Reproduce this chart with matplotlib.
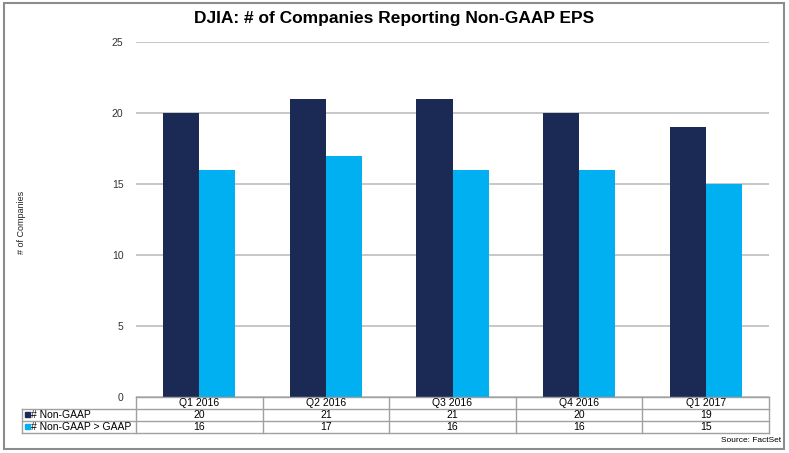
import matplotlib
matplotlib.use('Agg')
import matplotlib.pyplot as plt
import numpy as np

plt.rcParams['font.family'] = ['Liberation Sans', 'DejaVu Sans']

# data
quarters = ['Q1 2016', 'Q2 2016', 'Q3 2016', 'Q4 2016', 'Q1 2017']
non_gaap = [20, 21, 21, 20, 19]
non_gaap_gt_gaap = [16, 17, 16, 16, 15]
series_names = ['# Non-GAAP', '# Non-GAAP > GAAP']
dark = '#1a2a55'
light = '#00b0f0'
grid_col = '#b8b8b8'
table_col = '#a0a0a0'

W, H = 789, 453
fig = plt.figure(figsize=(W / 100, H / 100), dpi=100)

# pixel helpers (origin top-left)
def fx(px):
    return px / W

def fy(py):
    return 1 - py / H

left, right, top, bottom = 136, 769, 42.3, 397
ax = fig.add_axes([fx(left), fy(bottom), fx(right) - fx(left), (bottom - top) / H])

x = np.arange(len(quarters))
bw = 0.285
ax.bar(x - bw / 2, non_gaap, width=bw, color=dark, zorder=3)
ax.bar(x + bw / 2, non_gaap_gt_gaap, width=bw, color=light, zorder=3)

ax.set_xlim(-0.5, len(quarters) - 0.5)
ax.set_ylim(0, 25)
ax.set_yticks([0, 5, 10, 15, 20, 25])
ax.yaxis.grid(True, color=grid_col, linewidth=1.1, zorder=0)
ax.set_xticks([])
for s in ax.spines.values():
    s.set_visible(False)
ax.tick_params(axis='y', length=0, labelsize=7.5, pad=9, labelcolor='#333333')

fig.text(fx(22), fy(222), '# of Companies', rotation=90, ha='center', va='center',
         fontsize=6.5, color='#222222')

fig.text(fx(394), fy(18), 'DJIA: # of Companies Reporting Non-GAAP EPS',
         ha='center', va='center', fontsize=12.5, fontweight='bold')

# data table below the axis
row_y = [397, 408.7, 420.7, 432.5]
col_w = (right - left) / len(quarters)
lab_left = 21.7
fs = 7.5

def hline(y, x0, x1):
    fig.add_artist(plt.Line2D([fx(x0), fx(x1)], [fy(y), fy(y)], color=table_col, linewidth=1))

def vline(xp, y0, y1):
    fig.add_artist(plt.Line2D([fx(xp), fx(xp)], [fy(y0), fy(y1)], color=table_col, linewidth=1))

hline(row_y[0], left, right)
for yy in row_y[1:]:
    hline(yy, lab_left, right)
vline(lab_left, row_y[1], row_y[3])
for i in range(len(quarters) + 1):
    vline(left + i * col_w, row_y[0], row_y[3])

for i, q in enumerate(quarters):
    cx = left + (i + 0.5) * col_w
    fig.text(fx(cx), fy((row_y[0] + row_y[1]) / 2), q, ha='center', va='center', fontsize=fs)
    fig.text(fx(cx), fy((row_y[1] + row_y[2]) / 2), str(non_gaap[i]), ha='center', va='center', fontsize=fs)
    fig.text(fx(cx), fy((row_y[2] + row_y[3]) / 2), str(non_gaap_gt_gaap[i]), ha='center', va='center', fontsize=fs)

for r, (name, c) in enumerate(zip(series_names, [dark, light])):
    yc = (row_y[r + 1] + row_y[r + 2]) / 2
    fig.add_artist(plt.Rectangle((fx(25), fy(yc + 2.5)), 5 / W, 5 / H, color=c))
    fig.text(fx(31), fy(yc), name, ha='left', va='center', fontsize=fs)

fig.text(fx(781), fy(441), 'Source: FactSet', ha='right', va='center', fontsize=6)

# outer frame
fig.add_artist(plt.Rectangle((fx(4), fy(449)), (784 - 4) / W, (449 - 3) / H,
                             fill=False, edgecolor='#8c8c8c', linewidth=1.5))

fig.savefig('out.png', dpi=100)
